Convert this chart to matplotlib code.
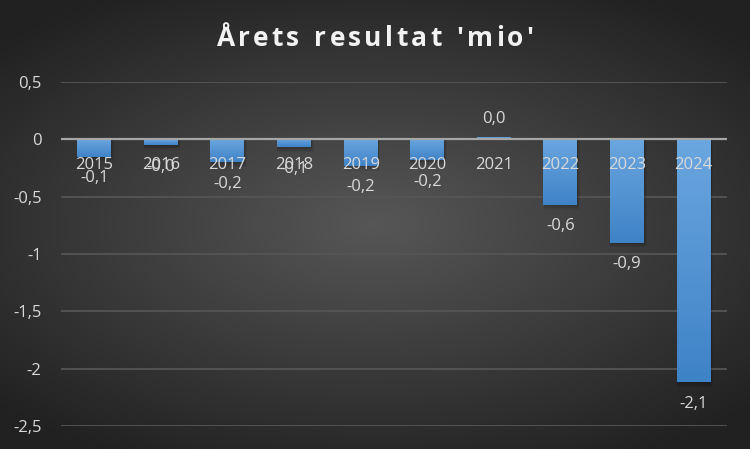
import numpy as np
import matplotlib.pyplot as plt
from matplotlib.colors import LinearSegmentedColormap

# === data ===
years = ["2015", "2016", "2017", "2018", "2019", "2020", "2021", "2022", "2023", "2024"]
results = [-0.15, -0.05, -0.20, -0.07, -0.23, -0.18, 0.01, -0.57, -0.90, -2.12]
value_labels = ["-0,1", "-0,0", "-0,2", "-0,1", "-0,2", "-0,2", "0,0", "-0,6", "-0,9", "-2,1"]
y_ticks = [0.5, 0, -0.5, -1, -1.5, -2, -2.5]
y_tick_labels = ["0,5", "0", "-0,5", "-1", "-1,5", "-2", "-2,5"]
title = "Årets resultat 'mio'"

plt.rcParams['font.family'] = ['Open Sans', 'DejaVu Sans']
text_col = "#d9d9d9"

fig = plt.figure(figsize=(7.5, 4.49), dpi=100)

# === background: radial gradient ===
bg = fig.add_axes([0, 0, 1, 1], zorder=0)
gx, gy = np.meshgrid(np.linspace(-1, 1, 400), np.linspace(-1, 1, 240))
r = np.sqrt((gx * 0.95) ** 2 + (gy * 1.1) ** 2)
shade = np.clip(0.34 - 0.16 * r, 0.13, 0.34)
bg.imshow(np.dstack([shade, shade, shade]), aspect="auto", extent=[0, 1, 0, 1])
bg.axis("off")

# === main chart ===
ax = fig.add_axes([0.0813, 0.0512, 0.888, 0.7662], zorder=1)
ax.patch.set_alpha(0)
x = np.arange(len(years))
bars = ax.bar(x, results, width=0.51, color="#4a8fd4", zorder=3)

# gradient fill + soft shadow per bar
grad = LinearSegmentedColormap.from_list("bl", ["#6aa6df", "#3f83c7"])
for b in bars:
    x0, w = b.get_x(), b.get_width()
    h = b.get_height()
    y_top, y_bot = max(h, 0), min(h, 0)
    for k, a in enumerate([0.10, 0.08, 0.06]):
        off = 0.012 * (k + 1)
        ax.bar(x0 + w / 2 + off * 0.6, h - off * 1.2 if h < 0 else h, width=w + off,
               color="black", alpha=a, zorder=2)
    ax.imshow(np.linspace(0, 1, 50).reshape(-1, 1), cmap=grad, aspect="auto",
              extent=[x0, x0 + w, y_bot, y_top], zorder=3.5)

ax.set_xlim(-0.5, len(years) - 0.5)
ax.set_ylim(-2.5, 0.5)

# grid + zero line
for t in y_ticks:
    if t == 0:
        ax.axhline(0, color="#a6a6a6", lw=1.6, zorder=4)
    else:
        ax.axhline(t, color="#555555", lw=1.3, zorder=1)

ax.set_yticks(y_ticks)
ax.set_yticklabels(y_tick_labels, color=text_col, fontsize=12)
ax.tick_params(axis="y", length=0, pad=14)
ax.set_xticks([])
for s in ax.spines.values():
    s.set_visible(False)

# category labels sit just under the zero line
for xi, yr in zip(x, years):
    ax.text(xi, -0.22, yr, ha="center", va="center", color=text_col, fontsize=12, zorder=6)

# value labels outside bar end
for xi, v, lab in zip(x, results, value_labels):
    if v >= 0:
        ax.text(xi, v + 0.17, lab, ha="center", va="center", color=text_col, fontsize=12, zorder=6)
    else:
        ax.text(xi, v - 0.19, lab, ha="center", va="center", color=text_col, fontsize=12, zorder=6)

# title with letter spacing, placed char by char
renderer = fig.canvas.get_renderer()
spacing = 3.2  # px between letters
widths = []
for ch in title:
    t = fig.text(0, 0, ch if ch != " " else "a", fontsize=19, fontweight="bold")
    bb = t.get_window_extent(renderer)
    widths.append(bb.width * (0.55 if ch == " " else 1))
    t.remove()
total = sum(widths) + spacing * (len(title) - 1)
fw = fig.get_figwidth() * fig.dpi
cur = fw / 2 - total / 2
for ch, w in zip(title, widths):
    if ch != " ":
        fig.text(cur / fw, 0.915, ch, ha="left", va="center", color="#f2f2f2",
                 fontsize=19, fontweight="bold")
    cur += w + spacing

fig.savefig("out.png", dpi=100)
